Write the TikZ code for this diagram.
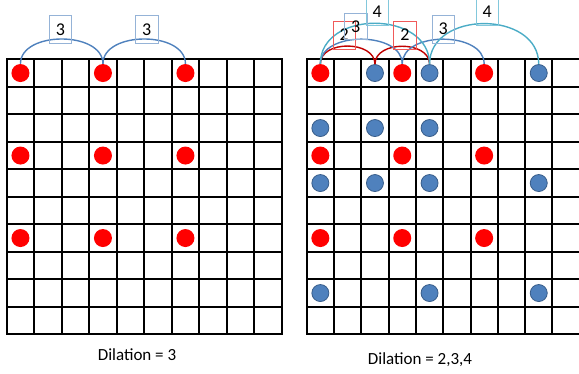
\documentclass[tikz,border=0pt]{standalone}
\usepackage{fontspec}
\setmainfont{Carlito}
\usepackage{tikz}
\usepackage{xcolor}

\definecolor{dotred}{RGB}{255,0,0}
\definecolor{dotblue}{RGB}{79,129,189}
\definecolor{dotedge}{RGB}{56,93,138}
\definecolor{arcred}{RGB}{192,0,0}
\definecolor{arcblue}{RGB}{79,129,189}
\definecolor{arcteal}{RGB}{75,172,198}
\definecolor{boxred}{RGB}{240,90,90}
\definecolor{boxblue}{RGB}{149,179,215}
\definecolor{boxteal}{RGB}{130,200,220}

\begin{document}
\begin{tikzpicture}[x=1pt,y=1pt,
  gridline/.style={line width=2pt,black,line cap=rect},
  reddot/.style={circle,fill=dotred,inner sep=0pt,minimum size=18pt},
  bluedot/.style={circle,fill=dotblue,draw=dotedge,line width=0.8pt,inner sep=0pt,minimum size=17pt},
  hop/.style={line width=1.4pt,out=90,in=90},
  numbox/.style={draw,line width=0.8pt,inner sep=0pt,minimum width=22.5pt,minimum height=28pt,font=\fontsize{18}{18}\selectfont},
  caption/.style={font=\fontsize{17}{19}\selectfont}]

\clip (0,0) rectangle (579,374);

% left grid
\begin{scope}[xshift=6.7pt,yshift=314.7pt,x=27.5pt,y=-27.5pt]
\foreach \i in {0,...,10} {
  \draw[gridline] (\i,0) -- (\i,10);
  \draw[gridline] (0,\i) -- (10,\i);
}
\foreach \r in {0,3,6}
  \foreach \c in {0,3,6}
    \node[reddot] (l\r\c) at (\c+0.5,\r+0.5) {};
\end{scope}

% right grid
\begin{scope}[xshift=306.7pt,yshift=314.7pt,x=27.3pt,y=-27.5pt]
\foreach \i in {0,...,9}
  \draw[gridline] (\i,0) -- (\i,10);
\foreach \i in {0,...,10}
  \draw[gridline] (0,\i) -- (10.5,\i);
\foreach \r/\c in {0/2,0/4,0/8,2/0,2/2,2/4,4/0,4/2,4/4,4/8,8/0,8/4,8/8}
  \node[bluedot] (b\r\c) at (\c+0.5,\r+0.5) {};
\foreach \r in {0,3,6}
  \foreach \c in {0,3,6}
    \node[reddot] (r\r\c) at (\c+0.5,\r+0.5) {};
\end{scope}

% dilation 3
\draw[hop,arcblue,looseness=1.03] (l00) to (l03);
\draw[hop,arcblue,looseness=1.03] (l03) to (l06);
\node[numbox,draw=boxblue] (s1) at (60.5,344.5) {3};
\node[numbox,draw=boxblue] (s2) at (146.7,344.5) {3};

% dilation 2,3,4
\draw[hop,arcred,looseness=1.12] (r00) to (b02);
\draw[hop,arcred,looseness=1.12] (b02) to (b04);
\draw[hop,arcblue,looseness=1.03] (r00) to (r03);
\draw[hop,arcblue,looseness=1.03] (r03) to (r06);
\draw[hop,arcteal,looseness=1.27] (r00) to (b04);
\draw[hop,arcteal,looseness=1.27] (b04) to (b08);

\node[numbox,draw=boxred] (t1) at (344.3,339) {2};
\node[numbox,draw=boxred] (t2) at (405,339) {2};
\node[numbox,draw=boxblue,minimum height=26pt] (t3) at (355.7,347.7) {3};
\node[numbox,draw=boxblue] (t4) at (443.3,344.8) {3};
\node[numbox,draw=boxteal] (t5) at (377.3,362.3) {4};
\node[numbox,draw=boxteal] (t6) at (487.3,362.3) {4};

\node[caption] (c1) at (137,19.5) {Dilation = 3};
\node[caption] (c2) at (420,14) {Dilation = 2,3,4};

\end{tikzpicture}
\end{document}
